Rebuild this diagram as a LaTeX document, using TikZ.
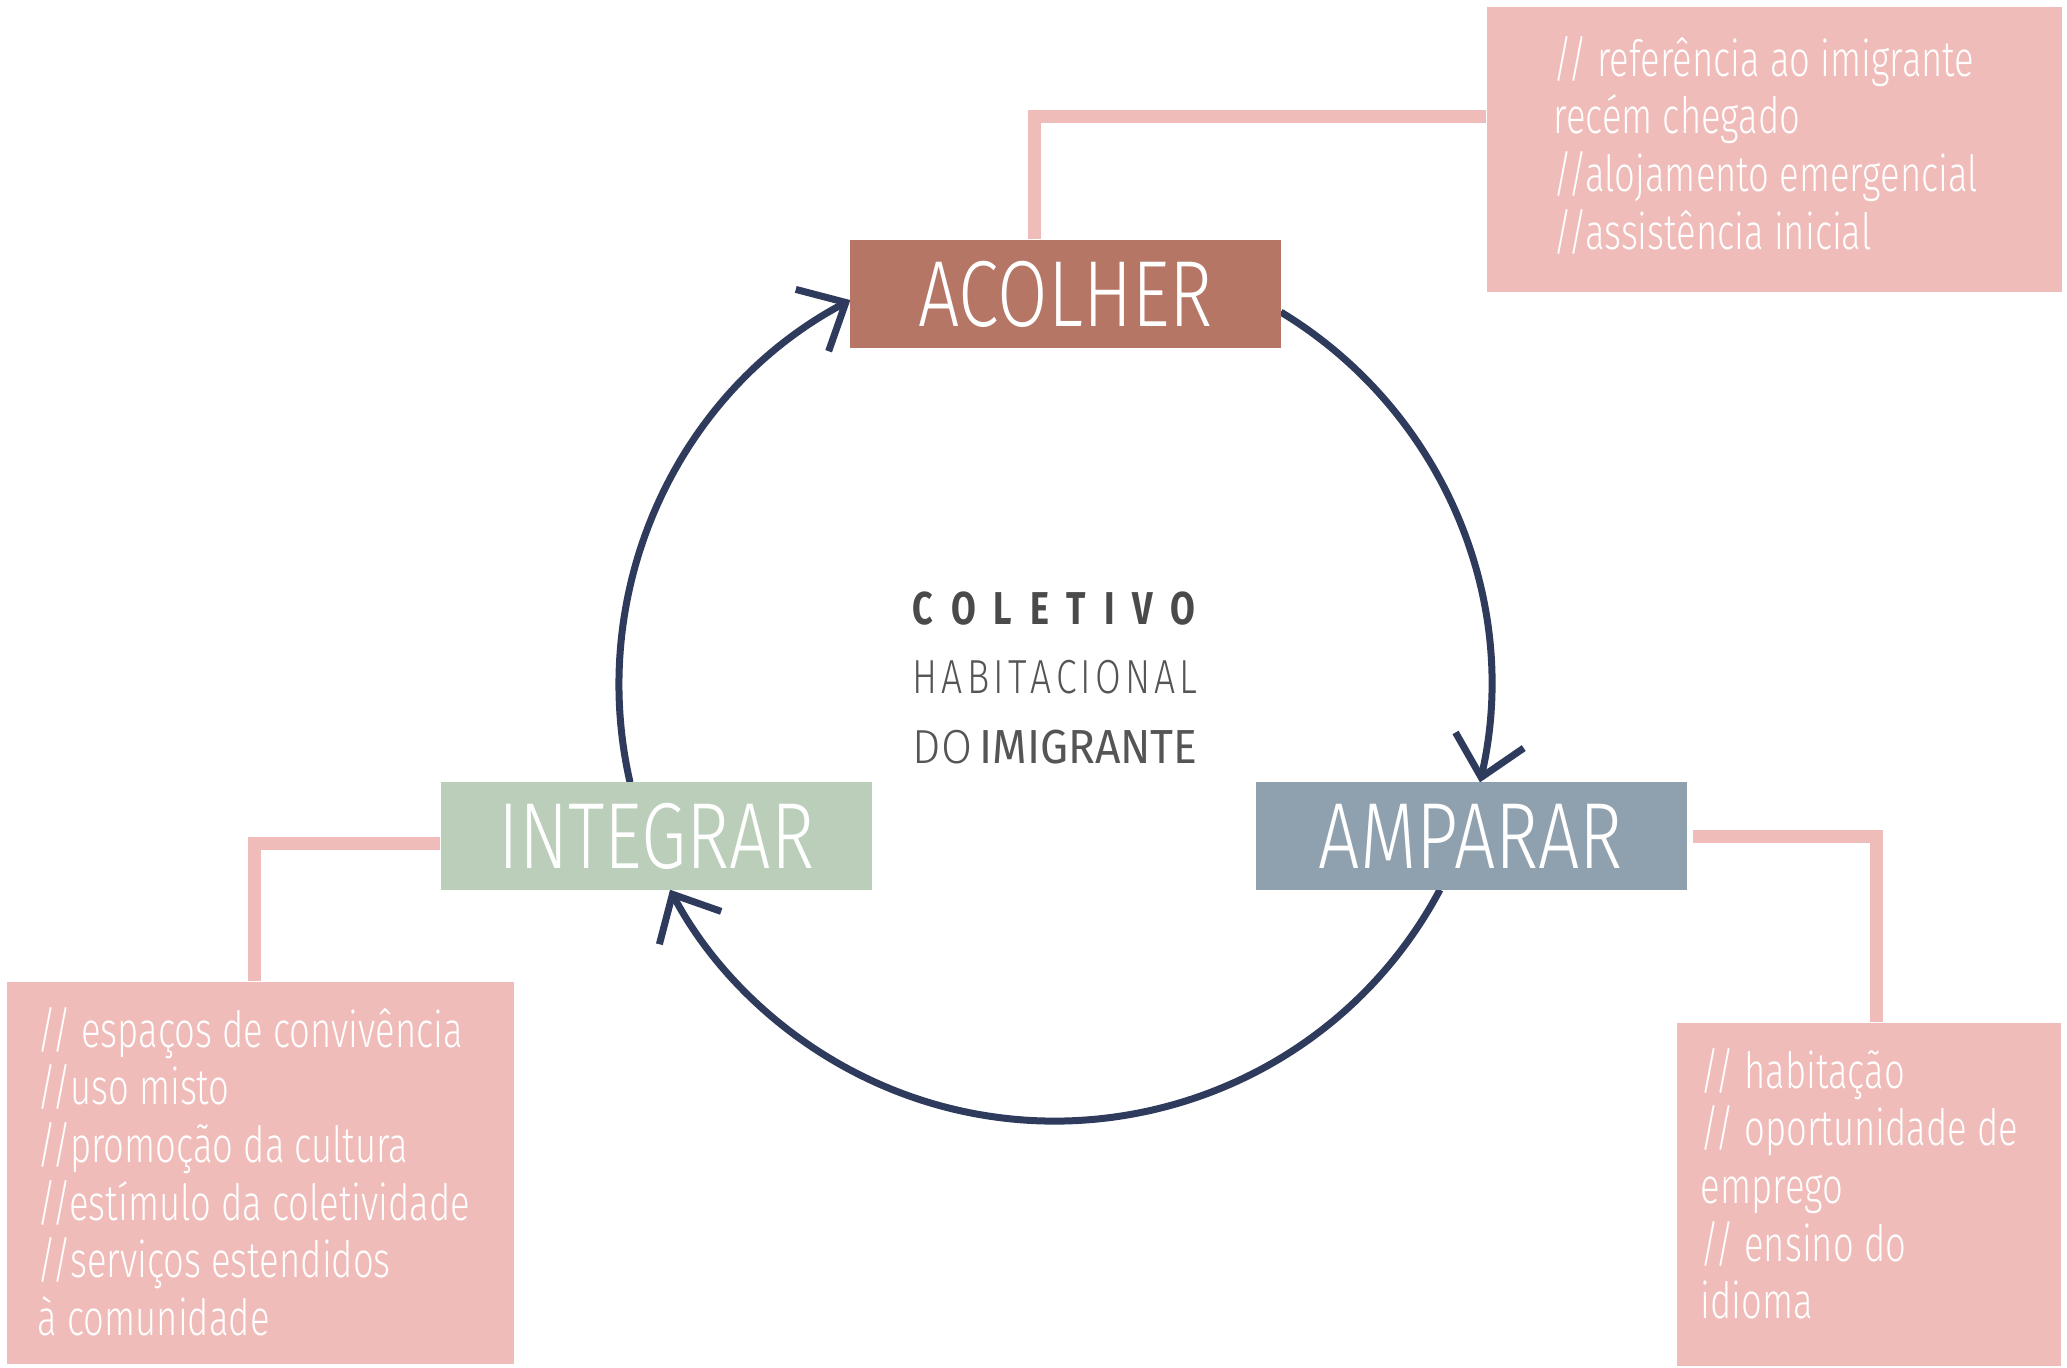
\documentclass[tikz,border=0pt]{standalone}
\usepackage{fontspec}
\usetikzlibrary{arrows.meta}
\newfontfamily\lblfont{Fira Sans Light}[FakeStretch=0.78]
\newfontfamily\notefont{Fira Sans Light}[FakeStretch=0.73]
\newfontfamily\bldfont{Fira Sans Bold}[FakeStretch=0.78]
\newfontfamily\dolight{Fira Sans Light}[FakeStretch=0.94]
\newfontfamily\doreg{Fira Sans}[FakeStretch=0.93]
\definecolor{acolc}{HTML}{B57665}
\definecolor{ampac}{HTML}{8FA0AE}
\definecolor{integc}{HTML}{BACEB9}
\definecolor{pinkc}{HTML}{F0BCB9}
\definecolor{navyc}{HTML}{2E3B5C}
\definecolor{darkt}{HTML}{4A4A4A}
\definecolor{midt}{HTML}{555555}
\newcommand\linesbox[1]{\vtop{\baselineskip=0.577cm\lineskiplimit=-1cm\lineskip=0pt #1}}
\tikzset{
  colbox/.style={rectangle, inner sep=0pt, minimum width=4.31cm, minimum height=1.08cm, text=white, font={\lblfont\fontsize{26.7pt}{30pt}\selectfont}},
  notebox/.style={rectangle, fill=pinkc, inner sep=0pt},
  notetext/.style={inner sep=0pt, anchor=base west, text=white, font={\notefont\fontsize{14.2pt}{16.4pt}\selectfont}},
  cyc/.style={draw=navyc, line width=0.07cm, -{Straight Barb[length=0.38cm,width=0.7cm]}},
  link/.style={draw=pinkc, line width=0.13cm},
  ctrtext/.style={inner sep=0pt, anchor=base west},
}
\begin{document}
\begin{tikzpicture}
\useasboundingbox (0,0) rectangle (20.67,-13.67);
\coordinate (C) at (10.55,-6.85);
% cycle arcs
\draw[cyc] ([shift={(58.8:4.36)}]C) arc[start angle=58.8, end angle=-12.9, radius=4.36cm];
\draw[cyc] ([shift={(-28:4.36)}]C) arc[start angle=-28, end angle=-152, radius=4.36cm];
\draw[cyc] ([shift={(192.9:4.36)}]C) arc[start angle=192.9, end angle=118, radius=4.36cm];
% main boxes
\node[colbox, fill=acolc] (acolher) at (10.655,-2.94) {ACOLHER};
\node[colbox, fill=ampac] (amparar) at (14.71,-8.36) {AMPARAR};
\node[colbox, fill=integc] (integrar) at (6.565,-8.36) {INTEGRAR};
% note boxes
\node[notebox, minimum width=5.75cm, minimum height=2.85cm] (tr) at (17.745,-1.495) {};
\node[notebox, minimum width=5.07cm, minimum height=3.82cm] (bl) at (2.605,-11.73) {};
\node[notebox, minimum width=3.84cm, minimum height=3.43cm] (br) at (18.69,-11.945) {};
\node[notetext] (trt) at (15.53,-0.76) {\linesbox{\hbox{// referência ao imigrante}\hbox{recém chegado}\hbox{//alojamento emergencial}\hbox{//assistência inicial}}};
\node[notetext] (blt) at (0.37,-10.47) {\linesbox{\hbox{// espaços de convivência}\hbox{//uso misto}\hbox{//promoção da cultura}\hbox{//estímulo da coletividade}\hbox{//serviços estendidos}\hbox{à comunidade}}};
\node[notetext] (brt) at (17.00,-10.88) {\linesbox{\hbox{// habitação}\hbox{// oportunidade de}\hbox{emprego}\hbox{// ensino do}\hbox{idioma}}};
% links
\draw[link] ([xshift=-0.315cm]acolher.north) |- ([yshift=0.33cm]tr.west);
\draw[link] ([xshift=0.06cm]amparar.east) -| ([xshift=0.07cm]br.north);
\draw[link] ([yshift=-0.07cm]integrar.west) -| ([xshift=-0.065cm]bl.north);
% centre title
\node[ctrtext, text=darkt, font={\bldfont\fontsize{13.1pt}{14pt}\selectfont}] (t1) at (9.12,-6.24) {\makebox[2.83cm][l]{C\hfill O\hfill L\hfill E\hfill T\hfill I\hfill V\hfill O}};
\node[ctrtext, text=midt, font={\lblfont\fontsize{13.6pt}{14pt}\selectfont}] (t2) at (9.12,-6.93) {\makebox[2.85cm][l]{H\hfill A\hfill B\hfill I\hfill T\hfill A\hfill C\hfill I\hfill O\hfill N\hfill A\hfill L}};
\node[ctrtext, text=midt, font={\fontsize{13.6pt}{14pt}\selectfont}] (t3) at (9.12,-7.63) {\makebox[2.85cm][l]{{\dolight DO}\hfill{\doreg IMIGRANTE}}};
\end{tikzpicture}
\end{document}
